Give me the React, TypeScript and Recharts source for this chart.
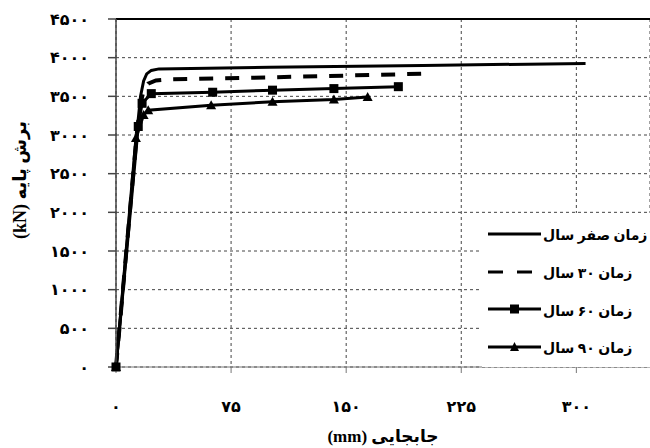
import { LineChart, Line, XAxis, YAxis, CartesianGrid, Legend, ReferenceLine } from "recharts";

// displacement (mm) / base shear (kN)
const disp0 = [0, 14, 16, 18, 20, 23, 28, 100, 200, 306];
const shear0 = [0, 3110, 3500, 3700, 3790, 3835, 3855, 3875, 3900, 3925];

const disp30 = [0, 14, 16, 18, 21, 26, 35, 100, 206];
const shear30 = [0, 3110, 3400, 3580, 3665, 3705, 3720, 3745, 3795];

const disp60 = [0, 14.5, 17, 23, 63, 102, 142, 184];
const shear60 = [0, 3110, 3410, 3535, 3553, 3580, 3600, 3625];

const disp90 = [0, 13, 18, 21, 62, 102, 142, 164];
const shear90 = [0, 2960, 3260, 3320, 3385, 3430, 3460, 3490];

const xTicks = [0, 75, 150, 225, 300];
const yTicks = [0, 500, 1000, 1500, 2000, 2500, 3000, 3500, 4000, 4500];

const legendNames = ["زمان صفر سال", "زمان ۳۰ سال", "زمان ۶۰ سال", "زمان ۹۰ سال"];

const toPairs = (xs: number[], ys: number[]) => xs.map((x, i) => ({ x, y: ys[i] }));

const FONT = "'Liberation Serif', 'DejaVu Sans', serif";
const fa = (v: number) => String(v).replace(/\d/g, (d) => "۰۱۲۳۴۵۶۷۸۹"[+d]);

const SquareDot = (p: any) =>
  p.cx == null ? <g key={p.index} /> : (
    <rect key={p.index} x={p.cx - 4.5} y={p.cy - 4.5} width={9} height={9} fill="#000" />
  );

const TriDot = (p: any) =>
  p.cx == null ? <g key={p.index} /> : (
    <polygon
      key={p.index}
      points={`${p.cx},${p.cy - 5} ${p.cx + 5},${p.cy + 4} ${p.cx - 5},${p.cy + 4}`}
      fill="#000"
    />
  );

function LegendBox() {
  return (
    <div style={{ background: "#fff", width: 168, height: 152, paddingTop: 2 }}>
      {legendNames.map((name, i) => (
        <div key={name} style={{ display: "flex", alignItems: "center", height: 37.7 }}>
          <svg width={58} height={20} style={{ marginLeft: 6, flexShrink: 0 }}>
            <line
              x1={0}
              x2={53}
              y1={10}
              y2={10}
              stroke="#000"
              strokeWidth={3}
              strokeDasharray={i === 1 ? "15 14" : undefined}
            />
            {i === 2 && <rect x={22} y={5.5} width={9} height={9} fill="#000" />}
            {i === 3 && <polygon points="26.5,5 31,14 22,14" fill="#000" />}
          </svg>
          <span
            dir="rtl"
            style={{
              fontFamily: FONT,
              fontWeight: "bold",
              fontSize: 14,
              color: "#000",
              marginLeft: -3,
              marginTop: 4,
              whiteSpace: "nowrap",
            }}
          >
            {name}
          </span>
        </div>
      ))}
    </div>
  );
}

export default function App() {
  return (
    <div style={{ position: "absolute", left: 0, top: 0, background: "#fff" }}>
      <LineChart width={650} height={448} margin={{ top: 19, right: 0, left: 0, bottom: 0 }}>
        <CartesianGrid stroke="#444" strokeDasharray="3 3" />
        <XAxis
          type="number"
          dataKey="x"
          domain={[0, 348]}
          ticks={xTicks}
          tickFormatter={fa}
          height={81}
          stroke="#777"
          tickSize={6}
          tickMargin={28}
          tick={{ fill: "#000", fontFamily: FONT, fontWeight: "bold", fontSize: 16 }}
          label={{
            value: "(mm) جابجایی",
            position: "insideBottom",
            offset: 6,
            fill: "#000",
            fontFamily: FONT,
            fontWeight: "bold",
            fontSize: 17,
          }}
        />
        <YAxis
          type="number"
          domain={[0, 4500]}
          ticks={yTicks}
          tickFormatter={fa}
          width={116}
          stroke="#444"
          strokeWidth={1.5}
          tickSize={8}
          tickMargin={19}
          tick={{ fill: "#000", fontFamily: FONT, fontWeight: "bold", fontSize: 16 }}
          label={{
            content: () => (
              <text
                x={22}
                y={180}
                transform="rotate(-90 22 180)"
                textAnchor="middle"
                dominantBaseline="middle"
                fill="#000"
                fontFamily={FONT}
                fontWeight="bold"
                fontSize={18}
              >
                (kN)   برش پایه
              </text>
            ),
          }}
        />
        <ReferenceLine y={4500} stroke="#000" strokeWidth={2} />
        <Legend
          layout="vertical"
          align="center"
          verticalAlign="middle"
          content={() => <LegendBox />}
          wrapperStyle={{ position: "absolute", left: 482, top: 213, width: 168, height: 152 }}
        />
        <Line
          data={toPairs(disp0, shear0)}
          dataKey="y"
          stroke="#000"
          strokeWidth={3}
          dot={false}
          isAnimationActive={false}
        />
        <Line
          data={toPairs(disp30, shear30)}
          dataKey="y"
          stroke="#000"
          strokeWidth={4}
          strokeDasharray="14 12"
          dot={false}
          isAnimationActive={false}
        />
        <Line
          data={toPairs(disp60, shear60)}
          dataKey="y"
          stroke="#000"
          strokeWidth={3}
          dot={SquareDot}
          isAnimationActive={false}
        />
        <Line
          data={toPairs(disp90, shear90)}
          dataKey="y"
          stroke="#000"
          strokeWidth={3}
          dot={TriDot}
          isAnimationActive={false}
        />
      </LineChart>
    </div>
  );
}
